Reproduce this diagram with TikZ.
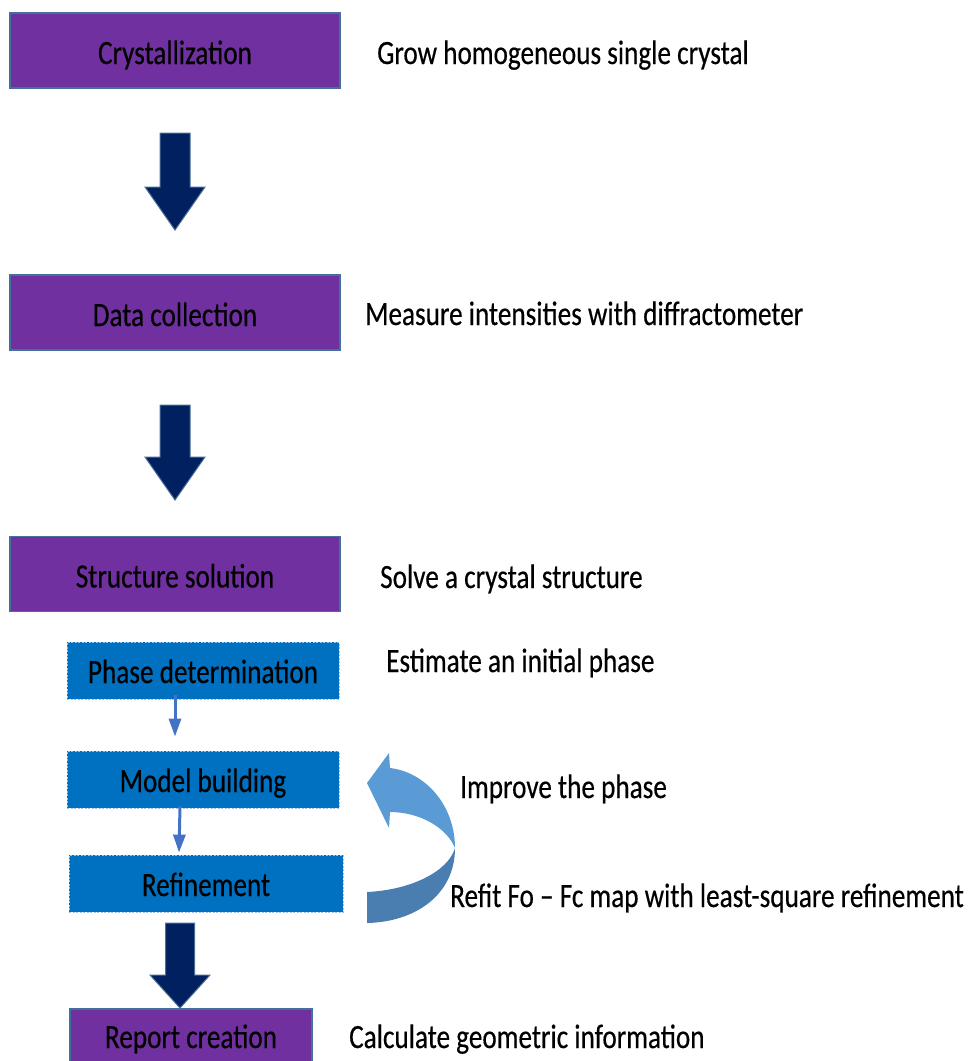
\documentclass[tikz,border=0pt]{standalone}
\usepackage{fontspec}
\setmainfont{Carlito}[FakeStretch=0.8,FakeBold=0.4]
\usetikzlibrary{arrows.meta,calc}

\definecolor{stepPurple}{HTML}{7030A0}
\definecolor{stepBorder}{HTML}{41719C}
\definecolor{subBlue}{HTML}{0070C0}
\definecolor{subEdge}{HTML}{9DC3E6}
\definecolor{navy}{HTML}{002060}
\definecolor{navyEdge}{HTML}{4A6E96}
\definecolor{thinArrow}{HTML}{4472C4}
\definecolor{loopLight}{HTML}{5B9BD5}
\definecolor{loopDark}{HTML}{4A7DB0}

\tikzset{
  mainstep/.style={draw=stepBorder, line width=1.2pt, fill=stepPurple,
    minimum width=330pt, minimum height=75pt, inner sep=0pt,
    text height=27pt, text depth=0pt, font=\fontsize{34}{40}\selectfont},
  substep/.style={draw=subEdge, line width=0.8pt, dash pattern=on 2pt off 1.5pt,
    fill=subBlue, minimum height=57pt, inner sep=0pt,
    text height=25pt, text depth=0pt, font=\fontsize{34}{40}\selectfont},
  note/.style={anchor=base west, inner sep=0pt, font=\fontsize{34}{41}\selectfont},
  bigarrow/.style={fill=navy, draw=navyEdge, line width=1pt, line join=miter},
  smallarrow/.style={draw=thinArrow, line width=3pt,
    -{Triangle[width=12pt,length=18pt]}},
}

% block arrow pointing down: shaft between two nodes
\newcommand{\downblock}[5]{% x, shaft top, head start, tip, half shaft width
  \draw[bigarrow] (#1-#5,#2) -- (#1+#5,#2) -- (#1+#5,#3) -- (#1+30,#3)
    -- (#1,#4) -- (#1-30,#3) -- (#1-#5,#3) -- cycle;}

\begin{document}
\begin{tikzpicture}[x=1pt,y=-1pt]
\useasboundingbox (0,0) rectangle (973,1061);

% main stages
\node[mainstep] (cry) at (175,50.5) {Crystallization};
\node[mainstep] (dat) at (175,312.5) {Data collection};
\node[mainstep] (sol) at (175,574) {Structure solution};

% sub-steps of the solution
\node[substep, minimum width=272pt] (pha) at (203,670.5) {Phase determination};
\node[substep, minimum width=272pt] (mod) at (203,779.5) {Model building};
\node[substep, minimum width=274pt] (ref) at (206,883.5) {Refinement};

% last stage, running off the lower edge
\node[mainstep, minimum width=242pt, text height=3pt] (rep) at (191,1046.5) {Report creation};

% descriptions
\node[note] (n1) at (377,64) {Grow homogeneous single crystal};
\node[note] (n2) at (365,325) {Measure intensities with diffractometer};
\node[note] (n3) at (380,588) {Solve a crystal structure};
\node[note] (n4) at (386,672) {Estimate an initial phase};
\node[note] (n5) at (460,798) {Improve the phase};
\node[note] (n6) at (450,907) {Refit Fo -- Fc map with least-square refinement};
\node[note] (n7) at (349,1048) {Calculate geometric information};

% heavy arrows between stages
\downblock{175}{133}{187}{230}{15}
\downblock{175}{405}{457}{500}{15}
\downblock{180}{923}{975}{1008}{14.5}

% thin arrows between sub-steps
\draw[smallarrow] ($(pha.south)+(-28,-4)$) -- ($(mod.north)+(-28,-14)$);
\draw[smallarrow] ($(mod.south)+(-23,-2)$) -- ($(ref.north)+(-27,-2)$);

% curved feedback arrow from refinement back to model building
\fill[loopLight] (367,783) -- (389,753) -- (390,768)
  .. controls (425,772) and (455,805) .. (455,848)
  .. controls (447,828) and (420,812) .. (390,812)
  -- (389,828) -- cycle;
\fill[loopDark] (455,848)
  .. controls (455,895) and (415,922) .. (367,923)
  -- (367,892)
  .. controls (410,890) and (448,872) .. (455,848) -- cycle;
\end{tikzpicture}
\end{document}
